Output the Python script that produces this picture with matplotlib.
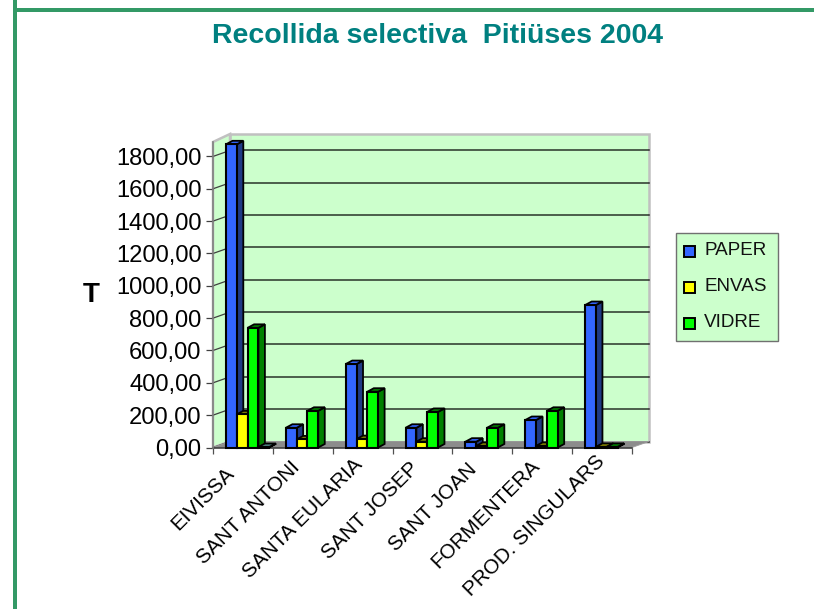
import matplotlib
matplotlib.use("Agg")
import matplotlib.pyplot as plt
from matplotlib.patches import Polygon, Rectangle
from matplotlib.transforms import Affine2D

CATEGORIES = ["EIVISSA", "SANT ANTONI", "SANTA EULARIA", "SANT JOSEP", "SANT JOAN", "FORMENTERA", "PROD. SINGULARS"]
PAPER = [1875, 122, 516, 122, 36, 170, 881]
ENVAS = [205, 50, 52, 36, 10, 10, 4]
VIDRE = [740, 227, 345, 220, 122, 227, 4]
EXTRA = [3, 0, 0, 0, 0, 0, 0]
SERIES = ["PAPER", "ENVAS", "VIDRE"]
YTICKS = [0, 200, 400, 600, 800, 1000, 1200, 1400, 1600, 1800]
TITLE = "Recollida selectiva  Pitiüses 2004"

W, H = 814, 609
plt.rcParams["font.family"] = ["Liberation Sans", "DejaVu Sans"]
fig = plt.figure(figsize=(W / 100, H / 100), dpi=100, facecolor="white")

def box(x0, ytop, x1, ybot):
    return [x0 / W, 1 - ybot / H, (x1 - x0) / W, (ybot - ytop) / H]

bg = fig.add_axes([0, 0, 1, 1], zorder=0)
bg.set_xlim(0, W); bg.set_ylim(H, 0); bg.axis("off")
bg.add_patch(Rectangle((13, 0), 4.2, H, fc="#339966", ec="none"))
bg.add_patch(Rectangle((13, 8), W - 13, 4, fc="#339966", ec="none"))

ax = fig.add_axes(box(213, 142, 632, 447.5), zorder=1)
ymax = 305.5 / 0.1617
ax.set_xlim(0, 7); ax.set_ylim(0, ymax)
ax.patch.set_alpha(0)
for s in ax.spines.values():
    s.set_visible(False)

PX = 7 / 419.0
PY = ymax / 305.5
DX, DY = 17 * PX, 6 * PY
TOP = ymax + 8 * PY

ax.add_patch(Polygon([(DX, DY), (7 + DX, DY), (7 + DX, TOP), (DX, TOP)],
                     fc="#CCFFCC", ec="#C0C0C0", lw=1.8, clip_on=False, zorder=1))
ax.add_patch(Polygon([(0, 0), (DX, DY), (DX, TOP), (0, ymax)],
                     fc="#CCFFCC", ec="#C0C0C0", lw=1.8, clip_on=False, zorder=1))
ax.add_patch(Polygon([(0, 0), (7, 0), (7 + DX, DY), (DX, DY)],
                     fc="#8C8C8C", ec="#A0A0A0", lw=0.6, clip_on=False, zorder=2))
for v in YTICKS:
    ax.plot([DX, 7 + DX], [v + DY, v + DY], color="black", lw=1.1, alpha=0.8, clip_on=False, zorder=1.5)
    ax.plot([0, 0.75 * DX], [v, v + 0.75 * DY], color="#404040", lw=0.9, clip_on=False, zorder=1.5)

ax.plot([0, 7], [0, 0], color="#303030", lw=1.1, zorder=3, clip_on=False)
ax.plot([0, 0], [0, ymax], color="#808080", lw=1.2, zorder=3, clip_on=False)
ax.set_yticks(YTICKS)
ax.set_yticklabels([f"{v},00" for v in YTICKS], fontsize=17.1)
ax.tick_params(axis="y", length=4.8, width=0.9, color="#404040", pad=3.5)
ax.set_xticks(range(8))
ax.set_xticklabels([""] * 8)
ax.tick_params(axis="x", which="major", length=4.5, width=0.9, color="#505050")
ax.set_xticks([i + 0.5 for i in range(7)], minor=True)
ax.tick_params(axis="x", which="minor", length=0, pad=21)
ax.set_xticklabels(CATEGORIES, minor=True, rotation=45, ha="right", va="top",
                   rotation_mode="anchor", fontsize=14.9)

# the longer a category label, the further up its axis it reaches
renderer = fig.canvas.get_renderer()
for t in ax.get_xticklabels(minor=True):
    L = renderer.get_text_width_height_descent(t.get_text(), t.get_fontproperties(), False)[0]
    t.set_transform(t.get_transform() + Affine2D().translate(-27 + 0.105 * L, 5 + 0.105 * L))

BW = 10.8 * PX
START = 13 * PX
BDX, BDY = 6.5 * PX, 3.5 * PY
STYLE = [(PAPER, "#3366FF", "#1F3A85"), (ENVAS, "#FFFF00", "#808000"),
         (VIDRE, "#00FF00", "#008000"), (EXTRA, "#99CCCC", "#4D8080")]
z = 10
for i in range(len(CATEGORIES)):
    for j, (vals, front, side) in enumerate(STYLE):
        v = vals[i]
        if j == 3 and v == 0:
            continue
        x0 = i + START + j * BW
        x1 = x0 + BW
        ax.add_patch(Polygon([(x1, 0), (x1 + BDX, BDY), (x1 + BDX, v + BDY), (x1, v)],
                             fc=side, ec="black", lw=1.3, zorder=z, clip_on=False))
        ax.add_patch(Polygon([(x0, v), (x1, v), (x1 + BDX, v + BDY), (x0 + BDX, v + BDY)],
                             fc=side if j != 0 else front, ec="black", lw=1.3, zorder=z + 0.1, clip_on=False))
        ax.bar(x0, v, width=BW, align="edge", color=front, edgecolor="black", lw=1.5,
               zorder=z + 0.2, clip_on=False)
        z += 1

bg.text(437, 36, TITLE, color="#008080", fontsize=20.5, fontweight="bold", ha="center", va="center")
fig.text(91 / W, 1 - 295 / H, "T", fontsize=20, fontweight="bold", ha="center", va="center")

lg = fig.add_axes([0, 0, 1, 1], zorder=2)
lg.set_xlim(0, W); lg.set_ylim(H, 0); lg.axis("off")
lg.add_patch(Rectangle((675.5, 232.5), 102, 108.5, fc="#CCFFCC", ec="#707070", lw=1.0))
for name, col, yy in zip(SERIES, ["#3366FF", "#FFFF00", "#00FF00"], [251, 287, 323]):
    lg.add_patch(Rectangle((683.5, yy - 5), 11, 11, fc=col, ec="black", lw=1.4))
    lg.text(704, yy - 0.5, name, fontsize=13.6, ha="left", va="center", color="#111111")

fig.savefig("out.png", dpi=100)
